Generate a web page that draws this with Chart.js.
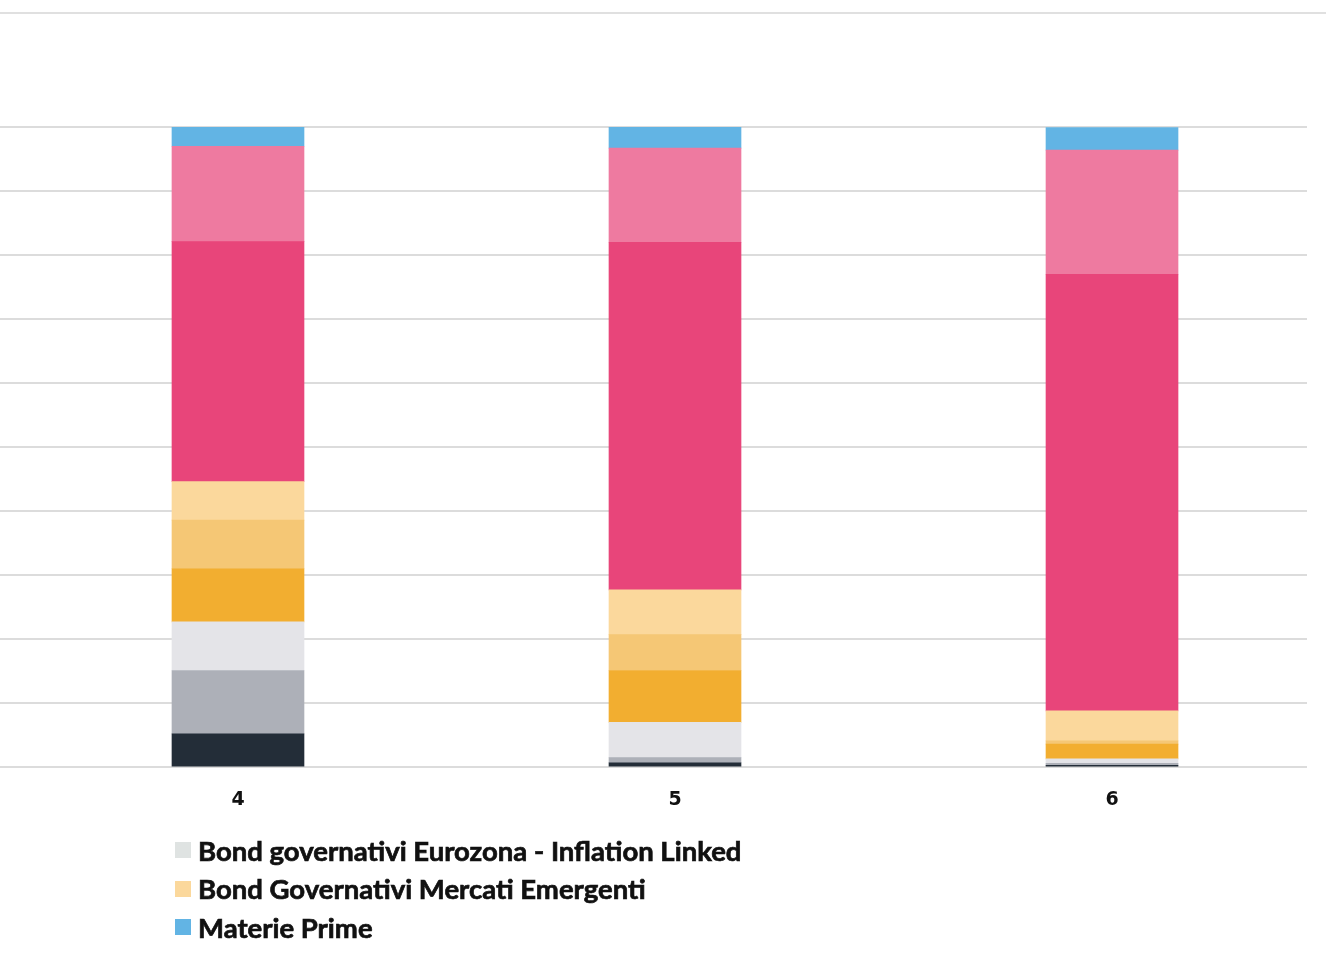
<!DOCTYPE html>
<html lang="it">
<head>
<meta charset="utf-8">
<title>Composizione portafogli</title>
<script src="https://cdn.jsdelivr.net/npm/chart.js@4/dist/chart.umd.min.js"></script>
<style>
  html, body { margin: 0; padding: 0; background: #ffffff; }
  body { width: 1326px; height: 964px; position: relative; overflow: hidden; font-family: Lato, "Open Sans", sans-serif; }
  .topline { position: absolute; left: 0; top: 12px; width: 1326px; height: 2px; background: #e0e0e0; }
  #wrap { position: absolute; left: 0; top: 0; width: 1326px; height: 852px; }
  #legend { position: absolute; left: 175px; top: 831px; margin: 0; padding: 0; list-style: none; }
  #legend li { display: flex; align-items: center; height: 38.5px; font-weight: 700; font-size: 27.5px; color: #111111; white-space: nowrap; -webkit-text-stroke: 0.7px #111111; }
  #legend .sw { display: inline-block; width: 16px; height: 16px; margin-right: 7px; }
</style>
</head>
<body>
<div class="topline"></div>
<div id="wrap"><canvas id="chart"></canvas></div>
<ul id="legend"></ul>
<script>
// Portfolio categories (x axis)
const categories = [4, 5, 6];

// Asset-class weights per portfolio, bottom to top (percent)
const quotaA = [5.2, 0.7, 0.3];
const quotaB = [9.9, 0.8, 0.3];
const inflationLinked = [7.6, 5.5, 0.7];
const quotaD = [8.3, 8.1, 2.3];
const quotaE = [7.6, 5.6, 0.5];
const mercatiEmergenti = [6.0, 7.0, 4.7];
const quotaG = [37.5, 54.3, 68.2];
const quotaH = [14.9, 14.7, 19.4];
const materiePrime = [3.0, 3.3, 3.5];

// Series names, colours and which ones appear in the legend
const seriesNames = [
  "Componente A",
  "Componente B",
  "Bond governativi Eurozona - Inflation Linked",
  "Componente D",
  "Componente E",
  "Bond Governativi Mercati Emergenti",
  "Componente G",
  "Componente H",
  "Materie Prime"
];
const seriesValues = [quotaA, quotaB, inflationLinked, quotaD, quotaE, mercatiEmergenti, quotaG, quotaH, materiePrime];
const seriesColors = ["#232d38", "#adb0b8", "#e4e4e8", "#f2ae30", "#f5c775", "#fbd89c", "#e8457a", "#ee7aa0", "#62b4e4"];
const legendSeries = [2, 5, 8];

const datasets = seriesValues.map((vals, i) => ({
  label: seriesNames[i],
  data: vals.map((v, j) => ({ x: categories[j], y: v })),
  backgroundColor: seriesColors[i],
  borderWidth: 0,
  barThickness: 132
}));

new Chart(document.getElementById("chart"), {
  type: "bar",
  data: { datasets },
  options: {
    responsive: true,
    maintainAspectRatio: false,
    animation: false,
    layout: { padding: { top: 127, right: 19, left: 0, bottom: 20 } },
    plugins: { legend: { display: false }, tooltip: { enabled: false } },
    scales: {
      x: {
        type: "linear",
        stacked: true,
        offset: false,
        min: 3.4554,
        max: 6.4462,
        grid: { display: false, drawTicks: false },
        border: { display: false },
        afterBuildTicks: (scale) => { scale.ticks = categories.map(v => ({ value: v })); },
        ticks: {
          padding: 21,
          color: "#111111",
          font: { family: "DejaVu Sans", size: 19, weight: "bold" },
          callback: (v) => String(v)
        }
      },
      y: {
        stacked: true,
        min: 0,
        max: 100,
        ticks: { display: false, stepSize: 10 },
        border: { display: false },
        grid: { color: "#dcdcdc", lineWidth: 2, drawTicks: false }
      }
    }
  }
});

// Legend list built from the series definitions
const legend = document.getElementById("legend");
legendSeries.forEach(i => {
  const li = document.createElement("li");
  const sw = document.createElement("span");
  sw.className = "sw";
  sw.style.background = seriesColors[i] === "#e4e4e8" ? "#dfe3e2" : seriesColors[i];
  li.appendChild(sw);
  li.appendChild(document.createTextNode(seriesNames[i]));
  legend.appendChild(li);
});
</script>
</body>
</html>
